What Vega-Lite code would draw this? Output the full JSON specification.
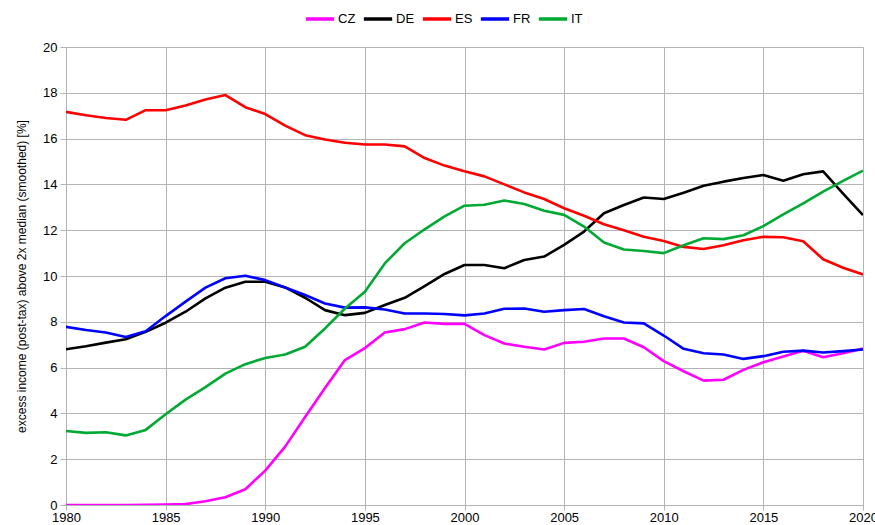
{
  "$schema": "https://vega.github.io/schema/vega-lite/v6.json",
  "width": 797,
  "height": 458,
  "autosize": "none",
  "padding": {"left": 66, "top": 47, "right": 12, "bottom": 20},
  "background": "white",
  "config": {
    "font": "Liberation Sans",
    "view": {"stroke": null},
    "axis": {
      "labelFont": "Liberation Sans",
      "titleFont": "Liberation Sans",
      "labelColor": "#000000",
      "titleColor": "#000000",
      "gridColor": "#b3b3b3",
      "gridWidth": 1,
      "domainColor": "#b3b3b3",
      "tickColor": "#b3b3b3",
      "labelFontSize": 13
    }
  },
  "datasets": {
    "series": [
      {"year":1980,"country":"CZ","value":0},{"year":1981,"country":"CZ","value":0},{"year":1982,"country":"CZ","value":0},{"year":1983,"country":"CZ","value":0},{"year":1984,"country":"CZ","value":0.01},{"year":1985,"country":"CZ","value":0.02},{"year":1986,"country":"CZ","value":0.04},{"year":1987,"country":"CZ","value":0.16},{"year":1988,"country":"CZ","value":0.34},{"year":1989,"country":"CZ","value":0.69},{"year":1990,"country":"CZ","value":1.5},{"year":1991,"country":"CZ","value":2.55},{"year":1992,"country":"CZ","value":3.84},{"year":1993,"country":"CZ","value":5.11},{"year":1994,"country":"CZ","value":6.33},{"year":1995,"country":"CZ","value":6.85},{"year":1996,"country":"CZ","value":7.53},{"year":1997,"country":"CZ","value":7.68},{"year":1998,"country":"CZ","value":7.97},{"year":1999,"country":"CZ","value":7.91},{"year":2000,"country":"CZ","value":7.91},{"year":2001,"country":"CZ","value":7.42},{"year":2002,"country":"CZ","value":7.05},{"year":2003,"country":"CZ","value":6.91},{"year":2004,"country":"CZ","value":6.79},{"year":2005,"country":"CZ","value":7.08},{"year":2006,"country":"CZ","value":7.13},{"year":2007,"country":"CZ","value":7.27},{"year":2008,"country":"CZ","value":7.27},{"year":2009,"country":"CZ","value":6.89},{"year":2010,"country":"CZ","value":6.28},{"year":2011,"country":"CZ","value":5.84},{"year":2012,"country":"CZ","value":5.43},{"year":2013,"country":"CZ","value":5.47},{"year":2014,"country":"CZ","value":5.9},{"year":2015,"country":"CZ","value":6.23},{"year":2016,"country":"CZ","value":6.48},{"year":2017,"country":"CZ","value":6.74},{"year":2018,"country":"CZ","value":6.45},{"year":2019,"country":"CZ","value":6.63},{"year":2020,"country":"CZ","value":6.83},
      {"year":1980,"country":"DE","value":6.8},{"year":1981,"country":"DE","value":6.93},{"year":1982,"country":"DE","value":7.09},{"year":1983,"country":"DE","value":7.24},{"year":1984,"country":"DE","value":7.56},{"year":1985,"country":"DE","value":7.96},{"year":1986,"country":"DE","value":8.44},{"year":1987,"country":"DE","value":9.02},{"year":1988,"country":"DE","value":9.49},{"year":1989,"country":"DE","value":9.75},{"year":1990,"country":"DE","value":9.75},{"year":1991,"country":"DE","value":9.5},{"year":1992,"country":"DE","value":9.05},{"year":1993,"country":"DE","value":8.51},{"year":1994,"country":"DE","value":8.29},{"year":1995,"country":"DE","value":8.39},{"year":1996,"country":"DE","value":8.73},{"year":1997,"country":"DE","value":9.05},{"year":1998,"country":"DE","value":9.56},{"year":1999,"country":"DE","value":10.09},{"year":2000,"country":"DE","value":10.48},{"year":2001,"country":"DE","value":10.48},{"year":2002,"country":"DE","value":10.34},{"year":2003,"country":"DE","value":10.7},{"year":2004,"country":"DE","value":10.85},{"year":2005,"country":"DE","value":11.36},{"year":2006,"country":"DE","value":11.94},{"year":2007,"country":"DE","value":12.74},{"year":2008,"country":"DE","value":13.1},{"year":2009,"country":"DE","value":13.43},{"year":2010,"country":"DE","value":13.36},{"year":2011,"country":"DE","value":13.64},{"year":2012,"country":"DE","value":13.94},{"year":2013,"country":"DE","value":14.12},{"year":2014,"country":"DE","value":14.28},{"year":2015,"country":"DE","value":14.41},{"year":2016,"country":"DE","value":14.16},{"year":2017,"country":"DE","value":14.44},{"year":2018,"country":"DE","value":14.57},{"year":2019,"country":"DE","value":13.6},{"year":2020,"country":"DE","value":12.66},
      {"year":1980,"country":"ES","value":17.17},{"year":1981,"country":"ES","value":17.02},{"year":1982,"country":"ES","value":16.9},{"year":1983,"country":"ES","value":16.82},{"year":1984,"country":"ES","value":17.24},{"year":1985,"country":"ES","value":17.24},{"year":1986,"country":"ES","value":17.45},{"year":1987,"country":"ES","value":17.71},{"year":1988,"country":"ES","value":17.9},{"year":1989,"country":"ES","value":17.37},{"year":1990,"country":"ES","value":17.07},{"year":1991,"country":"ES","value":16.57},{"year":1992,"country":"ES","value":16.15},{"year":1993,"country":"ES","value":15.96},{"year":1994,"country":"ES","value":15.82},{"year":1995,"country":"ES","value":15.74},{"year":1996,"country":"ES","value":15.74},{"year":1997,"country":"ES","value":15.66},{"year":1998,"country":"ES","value":15.15},{"year":1999,"country":"ES","value":14.82},{"year":2000,"country":"ES","value":14.57},{"year":2001,"country":"ES","value":14.35},{"year":2002,"country":"ES","value":14.0},{"year":2003,"country":"ES","value":13.65},{"year":2004,"country":"ES","value":13.36},{"year":2005,"country":"ES","value":12.96},{"year":2006,"country":"ES","value":12.63},{"year":2007,"country":"ES","value":12.26},{"year":2008,"country":"ES","value":12.0},{"year":2009,"country":"ES","value":11.71},{"year":2010,"country":"ES","value":11.53},{"year":2011,"country":"ES","value":11.27},{"year":2012,"country":"ES","value":11.18},{"year":2013,"country":"ES","value":11.34},{"year":2014,"country":"ES","value":11.56},{"year":2015,"country":"ES","value":11.71},{"year":2016,"country":"ES","value":11.69},{"year":2017,"country":"ES","value":11.52},{"year":2018,"country":"ES","value":10.73},{"year":2019,"country":"ES","value":10.36},{"year":2020,"country":"ES","value":10.07},
      {"year":1980,"country":"FR","value":7.78},{"year":1981,"country":"FR","value":7.64},{"year":1982,"country":"FR","value":7.53},{"year":1983,"country":"FR","value":7.34},{"year":1984,"country":"FR","value":7.59},{"year":1985,"country":"FR","value":8.25},{"year":1986,"country":"FR","value":8.88},{"year":1987,"country":"FR","value":9.49},{"year":1988,"country":"FR","value":9.9},{"year":1989,"country":"FR","value":10.01},{"year":1990,"country":"FR","value":9.82},{"year":1991,"country":"FR","value":9.5},{"year":1992,"country":"FR","value":9.17},{"year":1993,"country":"FR","value":8.8},{"year":1994,"country":"FR","value":8.62},{"year":1995,"country":"FR","value":8.63},{"year":1996,"country":"FR","value":8.54},{"year":1997,"country":"FR","value":8.36},{"year":1998,"country":"FR","value":8.36},{"year":1999,"country":"FR","value":8.34},{"year":2000,"country":"FR","value":8.28},{"year":2001,"country":"FR","value":8.36},{"year":2002,"country":"FR","value":8.57},{"year":2003,"country":"FR","value":8.58},{"year":2004,"country":"FR","value":8.44},{"year":2005,"country":"FR","value":8.51},{"year":2006,"country":"FR","value":8.56},{"year":2007,"country":"FR","value":8.24},{"year":2008,"country":"FR","value":7.97},{"year":2009,"country":"FR","value":7.93},{"year":2010,"country":"FR","value":7.4},{"year":2011,"country":"FR","value":6.82},{"year":2012,"country":"FR","value":6.63},{"year":2013,"country":"FR","value":6.57},{"year":2014,"country":"FR","value":6.38},{"year":2015,"country":"FR","value":6.5},{"year":2016,"country":"FR","value":6.69},{"year":2017,"country":"FR","value":6.74},{"year":2018,"country":"FR","value":6.66},{"year":2019,"country":"FR","value":6.72},{"year":2020,"country":"FR","value":6.79},
      {"year":1980,"country":"IT","value":3.23},{"year":1981,"country":"IT","value":3.15},{"year":1982,"country":"IT","value":3.18},{"year":1983,"country":"IT","value":3.04},{"year":1984,"country":"IT","value":3.28},{"year":1985,"country":"IT","value":3.96},{"year":1986,"country":"IT","value":4.6},{"year":1987,"country":"IT","value":5.15},{"year":1988,"country":"IT","value":5.74},{"year":1989,"country":"IT","value":6.15},{"year":1990,"country":"IT","value":6.42},{"year":1991,"country":"IT","value":6.57},{"year":1992,"country":"IT","value":6.91},{"year":1993,"country":"IT","value":7.71},{"year":1994,"country":"IT","value":8.58},{"year":1995,"country":"IT","value":9.31},{"year":1996,"country":"IT","value":10.55},{"year":1997,"country":"IT","value":11.43},{"year":1998,"country":"IT","value":12.04},{"year":1999,"country":"IT","value":12.6},{"year":2000,"country":"IT","value":13.07},{"year":2001,"country":"IT","value":13.11},{"year":2002,"country":"IT","value":13.3},{"year":2003,"country":"IT","value":13.14},{"year":2004,"country":"IT","value":12.85},{"year":2005,"country":"IT","value":12.67},{"year":2006,"country":"IT","value":12.16},{"year":2007,"country":"IT","value":11.46},{"year":2008,"country":"IT","value":11.16},{"year":2009,"country":"IT","value":11.09},{"year":2010,"country":"IT","value":11.0},{"year":2011,"country":"IT","value":11.34},{"year":2012,"country":"IT","value":11.65},{"year":2013,"country":"IT","value":11.61},{"year":2014,"country":"IT","value":11.78},{"year":2015,"country":"IT","value":12.18},{"year":2016,"country":"IT","value":12.69},{"year":2017,"country":"IT","value":13.17},{"year":2018,"country":"IT","value":13.68},{"year":2019,"country":"IT","value":14.15},{"year":2020,"country":"IT","value":14.6}
    ]
  },
  "data": {"name": "series"},
  "mark": {"type": "line", "strokeWidth": 2.6, "strokeJoin": "round", "clip": true},
  "encoding": {
    "x": {
      "field": "year",
      "type": "quantitative",
      "scale": {"domain": [1980, 2020], "nice": false, "zero": false},
      "axis": {
        "values": [1980, 1985, 1990, 1995, 2000, 2005, 2010, 2015, 2020],
        "format": "d",
        "title": null,
        "tickSize": 5,
        "labelPadding": 1,
        "labelFlush": false,
        "labelOverlap": false
      }
    },
    "y": {
      "field": "value",
      "type": "quantitative",
      "scale": {"domain": [0, 20], "nice": false},
      "axis": {
        "values": [0, 2, 4, 6, 8, 10, 12, 14, 16, 18, 20],
        "title": "excess income (post-tax) above 2x median (smoothed) [%]",
        "titleFontSize": 12,
        "titleFontWeight": "normal",
        "titlePadding": 14,
        "tickSize": 6,
        "labelPadding": 3
      }
    },
    "color": {
      "field": "country",
      "type": "nominal",
      "scale": {
        "domain": ["CZ", "DE", "ES", "FR", "IT"],
        "range": ["#ff00ff", "#000000", "#ff0000", "#0000ff", "#00a933"]
      },
      "legend": {
        "title": null,
        "orient": "none",
        "direction": "horizontal",
        "legendX": 238,
        "legendY": -44,
        "symbolType": "stroke",
        "symbolSize": 800,
        "symbolStrokeWidth": 3.5,
        "labelFontSize": 13,
        "labelFont": "Liberation Sans",
        "labelColor": "#000000",
        "labelOffset": 2,
        "columnPadding": 0
      }
    }
  }
}
